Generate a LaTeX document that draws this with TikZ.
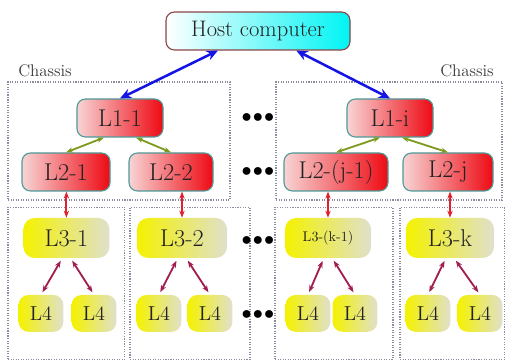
\documentclass[tikz,border=0pt]{standalone}
\usetikzlibrary{arrows.meta, positioning}
\definecolor{HostCyan}{HTML}{00F4F4}
\definecolor{HostBorder}{HTML}{8B4548}
\definecolor{CardRed}{HTML}{EE0A14}
\definecolor{CardPink}{HTML}{F8D4D4}
\definecolor{CardBorder}{HTML}{4E9A98}
\definecolor{NodeYellow}{HTML}{F4F200}
\definecolor{NodePale}{HTML}{E0E0CC}
\definecolor{LinkBlue}{HTML}{1414E6}
\definecolor{LinkOlive}{HTML}{7E9A1E}
\definecolor{LinkRed}{HTML}{E0202C}
\definecolor{LinkPlum}{HTML}{A01E50}
\definecolor{FrameGray}{HTML}{8C8CA0}
\definecolor{TextDark}{HTML}{222222}
\tikzset{
    host/.style={
        draw=HostBorder,
        thick,
        rounded corners=6pt,
        left color=white,
        right color=HostCyan,
        minimum width=4.6cm,
        minimum height=0.95cm,
        text=TextDark,
        font=\fontsize{16}{19}\selectfont
    },
    card/.style={
        draw=CardBorder,
        thick,
        rounded corners=6pt,
        left color=CardPink,
        right color=CardRed,
        minimum width=#1,
        minimum height=0.95cm,
        inner xsep=2pt,
        text=TextDark,
        font=\LARGE
    },
    card/.default=2.15cm,
    unit/.style={
        draw=none,
        rounded corners=8pt,
        left color=NodeYellow,
        middle color=NodeYellow!80!NodePale,
        right color=NodePale,
        minimum width=#1,
        minimum height=1cm,
        text=TextDark,
        font=\LARGE
    },
    unit/.default=2.15cm,
    leaf/.style={
        draw=none,
        rounded corners=7pt,
        left color=NodeYellow,
        middle color=NodeYellow!80!NodePale,
        right color=NodePale,
        minimum width=1.12cm,
        minimum height=0.92cm,
        text=TextDark,
        font=\Large
    },
    frame/.style={
        draw=FrameGray,
        densely dotted,
        thick,
        minimum width=#1,
        inner sep=0pt
    },
    frame/.default=3cm,
    label/.style={
        text=TextDark!90,
        font=\large
    },
    dots/.style={
        font=\Large
    },
    hostlink/.style={
        {Stealth[length=8pt,width=7pt]}-{Stealth[length=8pt,width=7pt]},
        line width=1.8pt,
        LinkBlue
    },
    cardlink/.style={
        {Stealth[length=5pt]}-{Stealth[length=5pt]},
        line width=1.3pt,
        LinkOlive
    },
    slotlink/.style={
        {Stealth[length=5pt]}-{Stealth[length=5pt]},
        line width=1.3pt,
        LinkRed
    },
    leaflink/.style={
        {Stealth[length=5pt]}-{Stealth[length=5pt]},
        line width=1.3pt,
        LinkPlum,
        shorten >=2pt,
        shorten <=2pt
    }
}
\begin{document}
\begin{tikzpicture}
    \useasboundingbox (0,0) rectangle (12.825,9.075);
    % Frames
    \node[frame=5.55cm, minimum height=2.95cm] (chassisA) at (2.975,5.55) {};
    \node[frame=5.65cm, minimum height=2.95cm] (chassisB) at (9.725,5.55) {};
    \node[frame=2.92cm, minimum height=3.8cm] (slotA) at (1.66,1.99) {};
    \node[frame=3cm, minimum height=3.8cm] (slotB) at (4.75,1.99) {};
    \node[frame=2.95cm, minimum height=3.8cm] (slotC) at (8.35,1.99) {};
    \node[frame=2.62cm, minimum height=3.8cm] (slotD) at (11.31,1.99) {};
    \node[label] (chassisAlabel) at (1.125,7.3) {Chassis};
    \node[label] (chassisBlabel) at (11.675,7.3) {Chassis};

    % Host and level 1
    \node[host] (host) at (6.45,8.3) {Host computer};
    \node[card] (l11) at (3.0,6.125) {L1-1};
    \node[card] (l1i) at (9.75,6.125) {L1-i};

    % Level 2
    \node[card=2.2cm] (l21) at (1.65,4.775) {L2-1};
    \node[card=2.1cm] (l22) at (4.275,4.775) {L2-2};
    \node[card=2.6cm] (l2j1) at (8.4,4.775) {L2-(j-1)};
    \node[card=2.25cm] (l2j) at (11.2,4.775) {L2-j};

    % Level 3
    \node[unit] (l31) at (1.66,3.125) {L3-1};
    \node[unit=2.25cm] (l32) at (4.55,3.125) {L3-2};
    \node[unit, font=\normalsize] (l3k1) at (8.2,3.125) {L3-(k-1)};
    \node[unit=2.2cm] (l3k) at (11.25,3.125) {L3-k};

    % Level 4
    \node[leaf] (l4a) at (1.025,1.24) {L4};
    \node[leaf] (l4b) at (2.35,1.24) {L4};
    \node[leaf] (l4c) at (3.975,1.24) {L4};
    \node[leaf] (l4d) at (5.25,1.24) {L4};
    \node[leaf] (l4e) at (7.7,1.24) {L4};
    \node[leaf] (l4f) at (8.875,1.24) {L4};
    \node[leaf] (l4g) at (10.7,1.24) {L4};
    \node[leaf] (l4h) at (12.0,1.24) {L4};

    % Dots
    \node[dots] (dots1) at (6.45,6.125) {$\bullet\!\bullet\!\bullet$};
    \node[dots] (dots2) at (6.45,4.775) {$\bullet\!\bullet\!\bullet$};
    \node[dots] (dots3) at (6.45,3.05) {$\bullet\!\bullet\!\bullet$};
    \node[dots] (dots4) at (6.45,1.2) {$\bullet\!\bullet\!\bullet$};

    % Links
    \draw[hostlink] (host) -- (l11.north);
    \draw[hostlink] (host) -- (l1i.north);

    \draw[cardlink] ([xshift=-0.4cm]l11.south) -- (l21.north);
    \draw[cardlink] ([xshift=0.4cm]l11.south) -- (l22.north);
    \draw[cardlink] ([xshift=-0.25cm]l1i.south) -- (l2j1.north);
    \draw[cardlink] ([xshift=0.3cm]l1i.south) -- (l2j.north);

    \draw[slotlink] (l21.south -| l31.north) -- (l31.north);
    \draw[slotlink] (l22.south -| l32.north) -- (l32.north);
    \draw[slotlink] (l2j1.south -| l3k1.north) -- (l3k1.north);
    \draw[slotlink] (l2j.south -| l3k.north) -- (l3k.north);

    \draw[leaflink] ([xshift=-3pt]l31.south) -- (l4a.north);
    \draw[leaflink] ([xshift=3pt]l31.south) -- (l4b.north);
    \draw[leaflink] ([xshift=-3pt]l32.south) -- (l4c.north);
    \draw[leaflink] ([xshift=3pt]l32.south) -- (l4d.north);
    \draw[leaflink] ([xshift=-3pt]l3k1.south) -- (l4e.north);
    \draw[leaflink] ([xshift=3pt]l3k1.south) -- (l4f.north);
    \draw[leaflink] ([xshift=-3pt]l3k.south) -- (l4g.north);
    \draw[leaflink] ([xshift=3pt]l3k.south) -- (l4h.north);
\end{tikzpicture}
\end{document}
